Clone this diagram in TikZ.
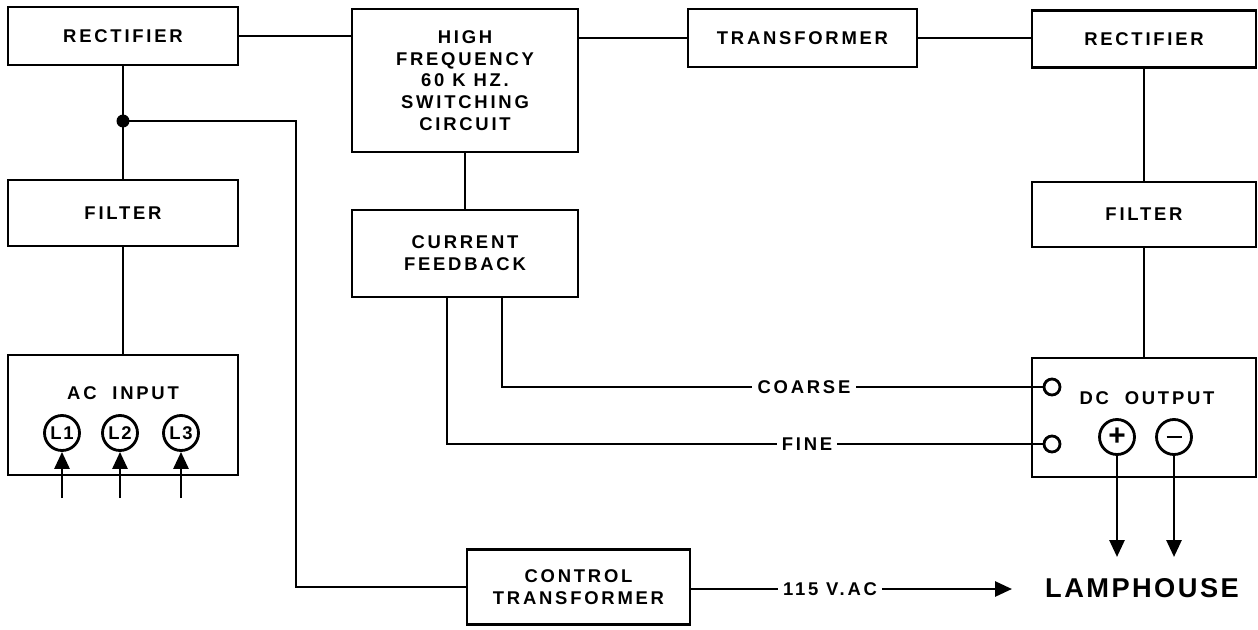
\documentclass[tikz,border=0pt]{standalone}
\usepackage{fontspec}
\newfontfamily\lblfont[LetterSpace=15]{Liberation Sans}
\newfontfamily\lampfont[LetterSpace=9]{Liberation Sans}
\newfontfamily\signfont{Liberation Sans}
\usetikzlibrary{arrows.meta}

\begin{document}
\begin{tikzpicture}[x=0.02cm,y=-0.02cm,line width=1.6pt,
  block/.style={draw,minimum width=4.56cm,align=center,inner sep=0pt,
               font=\lblfont\bfseries\fontsize{10.5}{12.4}\selectfont},
  lbl/.style={fill=white,inner xsep=3pt,inner ysep=1pt,
               font=\lblfont\bfseries\fontsize{10.5}{12.4}\selectfont},
  term/.style={draw,circle,minimum size=0.7cm,inner sep=0pt,
               font=\lampfont\bfseries\fontsize{10.5}{12.4}\selectfont},
  pin/.style={draw,circle,minimum size=0.32cm,inner sep=0pt,fill=white},
  tip/.style={-{Triangle[length=0.34cm,width=0.3cm]}},
]
  \useasboundingbox (0,0) rectangle (1258,629);

  \node[block,minimum width=4.6cm,minimum height=1.16cm]  (rectL) at (123,36)    {RECTIFIER};
  \node[block,minimum width=4.6cm,minimum height=1.32cm]  (filtL) at (123,213)   {FILTER};
  \node[block,minimum width=4.6cm,minimum height=2.4cm]   (acin)  at (123,415)   {};
  \node[block,minimum width=4.52cm,minimum height=2.86cm] (hf)    at (465,80.5)  {HIGH\\FREQUENCY\\60 K HZ.\\SWITCHING\\CIRCUIT};
  \node[block,minimum width=4.52cm,minimum height=1.74cm] (cfb)   at (465,253.5) {CURRENT\\FEEDBACK};
  \node[block,minimum width=4.58cm,minimum height=1.16cm] (trans) at (802.5,38)  {TRANSFORMER};
  \node[block,minimum width=4.48cm,minimum height=1.14cm] (rectR) at (1144,39)   {RECTIFIER};
  \node[block,minimum width=4.48cm,minimum height=1.3cm]  (filtR) at (1144,214.5){FILTER};
  \node[block,minimum width=4.48cm,minimum height=2.38cm] (dcout) at (1144,417.5){};
  \node[block,minimum width=4.46cm,minimum height=1.5cm]  (ctrl)  at (578.5,587) {CONTROL\\TRANSFORMER};

  \node[lbl,fill=none] (aclbl) at (123,393)  {AC\ \ INPUT};
  \node[term] (L1) at (62,433)  {L1};
  \node[term] (L2) at (120,433) {L2};
  \node[term] (L3) at (181,433) {L3};

  \node[lbl,fill=none] (dclbl) at (1147,398) {DC\ \ OUTPUT};
  \node[term,font=\signfont\bfseries\fontsize{17}{17}\selectfont] (tp) at (1117,437) {+};
  \node[term] (tm) at (1174,437) {\rule{0.3cm}{0.055cm}};
  \node[pin]  (tc) at (1052,387) {};
  \node[pin]  (tf) at (1052,444) {};

  \node[font=\lampfont\bfseries\fontsize{15.5}{18}\selectfont] (lamp) at (1142,588) {LAMPHOUSE};

  \coordinate (jn)   at (123,121);
  \coordinate (bend) at (296,121);
  \coordinate (a1) at (62,498);
  \coordinate (a2) at (120,498);
  \coordinate (a3) at (181,498);
  \coordinate (ap) at (1117,557);
  \coordinate (am) at (1174,557);
  \coordinate (av) at (1012,589);

  \draw (rectL.east) -- (rectL.east -| hf.west);
  \draw (hf.east |- trans.west) -- (trans.west);
  \draw (trans.east) -- (trans.east -| rectR.west);
  \draw (rectL.south) -- (jn) -- (filtL.north);
  \draw (filtL.south) -- (acin.north);
  \draw (hf.south) -- (cfb.north);
  \draw (rectR.south) -- (filtR.north);
  \draw (filtR.south) -- (dcout.north);
  \fill (jn) circle[radius=0.13cm];
  \draw (jn) -- (bend) |- (ctrl.west);

  \draw ([xshift=0.74cm]cfb.south) |- (tc.west);
  \draw ([xshift=-0.36cm]cfb.south) |- (tf.west);
  \node[lbl] (coarse) at (804,387) {COARSE};
  \node[lbl] (fine)   at (807,444) {FINE};

  \node[lbl,inner xsep=2pt] (v115) at (830,589) {115 V.AC};
  \draw (ctrl.east |- v115.west) -- (v115.west);
  \draw[tip] (v115.east) -- (av);

  \draw[tip] (a1) -- (L1.south);
  \draw[tip] (a2) -- (L2.south);
  \draw[tip] (a3) -- (L3.south);
  \draw[tip] (tp.south) -- (ap);
  \draw[tip] (tm.south) -- (am);
\end{tikzpicture}
\end{document}
